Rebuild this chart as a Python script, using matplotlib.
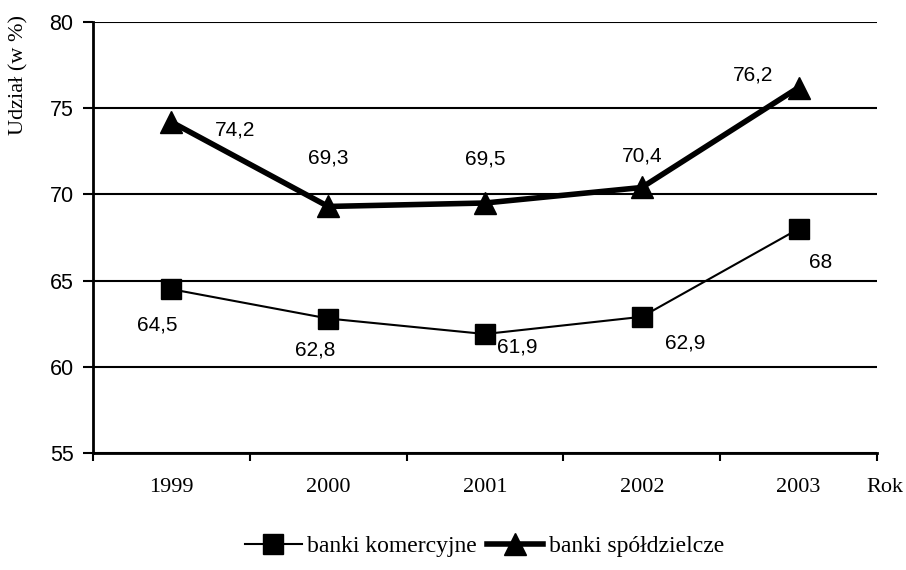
import numpy as np
import matplotlib.pyplot as plt

plt.rcParams['font.family'] = ['Liberation Serif', 'DejaVu Serif']
SANS = ['Liberation Sans', 'DejaVu Sans']

lata = ['1999', '2000', '2001', '2002', '2003']
komercyjne = [64.5, 62.8, 61.9, 62.9, 68]
spoldzielcze = [74.2, 69.3, 69.5, 70.4, 76.2]

# przesuniecia etykiet (w punktach)
off_kom = [(-10, -26), (-9, -23), (23, -9), (31, -19), (16, -24)]
off_spol = [(46, -6), (0, 35), (0, 32), (0, 23), (-33, 9)]

fig = plt.figure(figsize=(9.06, 5.7), dpi=100)
ax = fig.add_axes([0.1026, 0.2053, 0.8654, 0.7561])

x = np.arange(1, len(lata) + 1)
ax.plot(x, komercyjne, color='black', lw=1.5, marker='s', markersize=15,
        label='banki komercyjne')
ax.plot(x, spoldzielcze, color='black', lw=4, marker='^', markersize=16,
        label='banki spółdzielcze')

for xi, v, o in zip(x, komercyjne, off_kom):
    ax.annotate(str(v).replace('.', ','), (xi, v), xytext=o, textcoords='offset points',
                ha='center', va='center', fontsize=15, family=SANS)
for xi, v, o in zip(x, spoldzielcze, off_spol):
    ax.annotate(str(v).replace('.', ','), (xi, v), xytext=o, textcoords='offset points',
                ha='center', va='center', fontsize=15, family=SANS)

ax.set_xlim(0.5, 5.5)
ax.set_ylim(55, 80)
ax.set_yticks([55, 60, 65, 70, 75, 80])
for lbl in ax.get_yticklabels():
    lbl.set_family(SANS)
ax.tick_params(axis='y', labelsize=15.5, length=7, width=1.5, direction='out', pad=7)
ax.set_xticks(np.arange(0.5, 6, 1))
ax.set_xticklabels([])
ax.tick_params(axis='x', length=6, width=1.5, direction='out')
ax.set_xticks(x, minor=True)
ax.set_xticklabels(lata, minor=True)
ax.tick_params(axis='x', which='minor', length=0, labelsize=16, pad=18)

ax.yaxis.grid(True, color='black', lw=1.5)
ax.set_axisbelow(True)
ax.spines['top'].set_visible(False)
ax.spines['right'].set_visible(False)
ax.spines['left'].set_linewidth(2)
ax.spines['bottom'].set_linewidth(2)

fig.text(19 / 906, 1 - 75 / 570, 'Udział (w %)', rotation=90, fontsize=16,
         ha='center', va='center')
ax.text(0.986, -0.081, 'Rok', transform=ax.transAxes, fontsize=16, ha='left', va='center')

fig.legend(loc='lower center', bbox_to_anchor=(0.535, -0.015), ncol=2, frameon=False,
           fontsize=17, handlelength=2.4, columnspacing=0.4, handletextpad=0.25)

fig.savefig('out.png', dpi=100)
